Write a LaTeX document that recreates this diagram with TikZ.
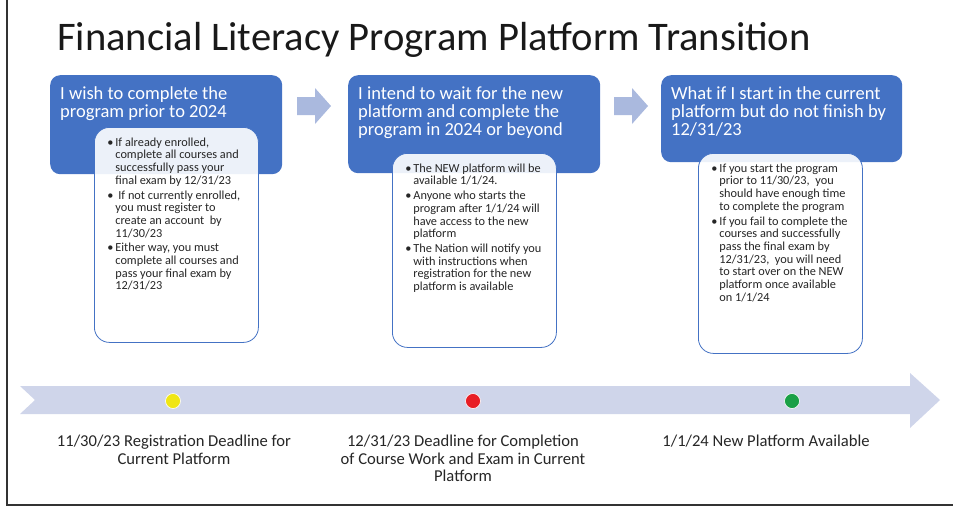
\documentclass[tikz,border=0pt]{standalone}
\usepackage{fontspec}
\setmainfont{Carlito}
\definecolor{plblue}{RGB}{68,114,196}
\definecolor{plarrow}{RGB}{170,185,222}
\definecolor{pltimeline}{RGB}{207,213,234}
\definecolor{pltext}{RGB}{38,38,38}
\definecolor{plyellow}{RGB}{240,230,20}
\definecolor{plred}{RGB}{232,30,37}
\definecolor{plgreen}{RGB}{26,160,70}
\begin{document}
\begin{tikzpicture}[x=1pt, y=-1pt,
    headbox/.style={rectangle, rounded corners=10pt, fill=plblue, text=white,
        anchor=north west, inner xsep=10pt, inner ysep=11pt,
        font=\fontsize{18.5}{18}\selectfont},
    notebox/.style={rectangle, rounded corners=15pt, draw=plblue, line width=0.8pt,
        fill=white, fill opacity=0.9, text opacity=1, text=pltext,
        anchor=north west, inner xsep=13pt, inner ysep=10pt,
        font=\fontsize{12.3}{12.7}\selectfont},
    datelabel/.style={text=pltext, align=center, anchor=north, inner sep=0pt,
        font=\fontsize{16.6}{17.5}\selectfont},
    dot/.style={circle, draw=white, line width=0.6pt, minimum size=15pt, inner sep=0pt}]
        \useasboundingbox (0,0) rectangle (953,523);

        % Rahmen
        \draw[line width=2pt, black!80] (7,0) -- (7,505) -- (953,505);

        % Titel
        \node[anchor=base west, inner sep=0pt, text=black!90,
            font=\fontsize{40.6}{48}\selectfont] (title) at (57,50)
            {Financial Literacy Program Platform Transition};

        % Zeitstrahl
        \fill[pltimeline] (20,386) -- (910,386) -- (910,373) -- (940,400)
            -- (910,428) -- (910,414) -- (20,414) -- (35,400) -- cycle;

        % Pfeile zwischen den Kopfboxen
        \foreach \ax in {297,614}
            \fill[plarrow] (\ax,97) -- ++(18,0) -- ++(0,-9) -- ++(16,18)
                -- ++(-16,18) -- ++(0,-9) -- ++(-18,0) -- cycle;

        % Kopfboxen
        \node[headbox] (h1) at (50,75) {\parbox[t][77pt][t]{212pt}{%
            I wish to complete the\\program prior to 2024}};
        \node[headbox] (h2) at (348,75) {\parbox[t][76pt][t]{232pt}{%
            I intend to wait for the new\\platform and complete the\\program in 2024 or beyond}};
        \node[headbox] (h3) at (661,75) {\parbox[t][65pt][t]{221pt}{%
            What if I start in the current\\platform but do not finish by\\12/31/23}};

        % Hinweisboxen
        \node[notebox] (n1) at (94,127) {\parbox[t][195pt][t]{138pt}{%
            \begin{tabular}[t]{@{}p{8pt}@{}l@{}}
                \textbullet & If already enrolled,\\
                & complete all courses and\\
                & successfully pass your\\
                & final exam by 12/31/23\\[2pt]
                \textbullet & \hspace{3pt}If not currently enrolled,\\
                & you must register to\\
                & create an account\ \ by\\
                & 11/30/23\\[2pt]
                \textbullet & Either way, you must\\
                & complete all courses and\\
                & pass your final exam by\\
                & 12/31/23
            \end{tabular}}};
        \node[notebox] (n2) at (392,153) {\parbox[t][174pt][t]{138pt}{%
            \begin{tabular}[t]{@{}p{8pt}@{}l@{}}
                \textbullet & The NEW platform will be\\
                & available 1/1/24.\\[2pt]
                \textbullet & Anyone who starts the\\
                & program after 1/1/24 will\\
                & have access to the new\\
                & platform\\[2pt]
                \textbullet & The Nation will notify you\\
                & with instructions when\\
                & registration for the new\\
                & platform is available
            \end{tabular}}};
        \node[notebox] (n3) at (698,153) {\parbox[t][180pt][t]{138pt}{%
            \begin{tabular}[t]{@{}p{8pt}@{}l@{}}
                \textbullet & If you start the program\\
                & prior to 11/30/23,\ \ you\\
                & should have enough time\\
                & to complete the program\\[2pt]
                \textbullet & If you fail to complete the\\
                & courses and successfully\\
                & pass the final exam by\\
                & 12/31/23,\ \ you will need\\
                & to start over on the NEW\\
                & platform once available\\
                & on 1/1/24
            \end{tabular}}};

        % Termine
        \node[dot, fill=plyellow] (d1) at (173,401) {};
        \node[dot, fill=plred] (d2) at (473,401) {};
        \node[dot, fill=plgreen] (d3) at (792,401) {};

        \node[datelabel] (l1) at (174,435) {11/30/23 Registration Deadline for\\Current Platform};
        \node[datelabel] (l2) at (463,435) {12/31/23 Deadline for Completion\\of Course Work and Exam in Current\\Platform};
        \node[datelabel] (l3) at (766,435) {1/1/24 New Platform Available};

    \end{tikzpicture}
\end{document}
